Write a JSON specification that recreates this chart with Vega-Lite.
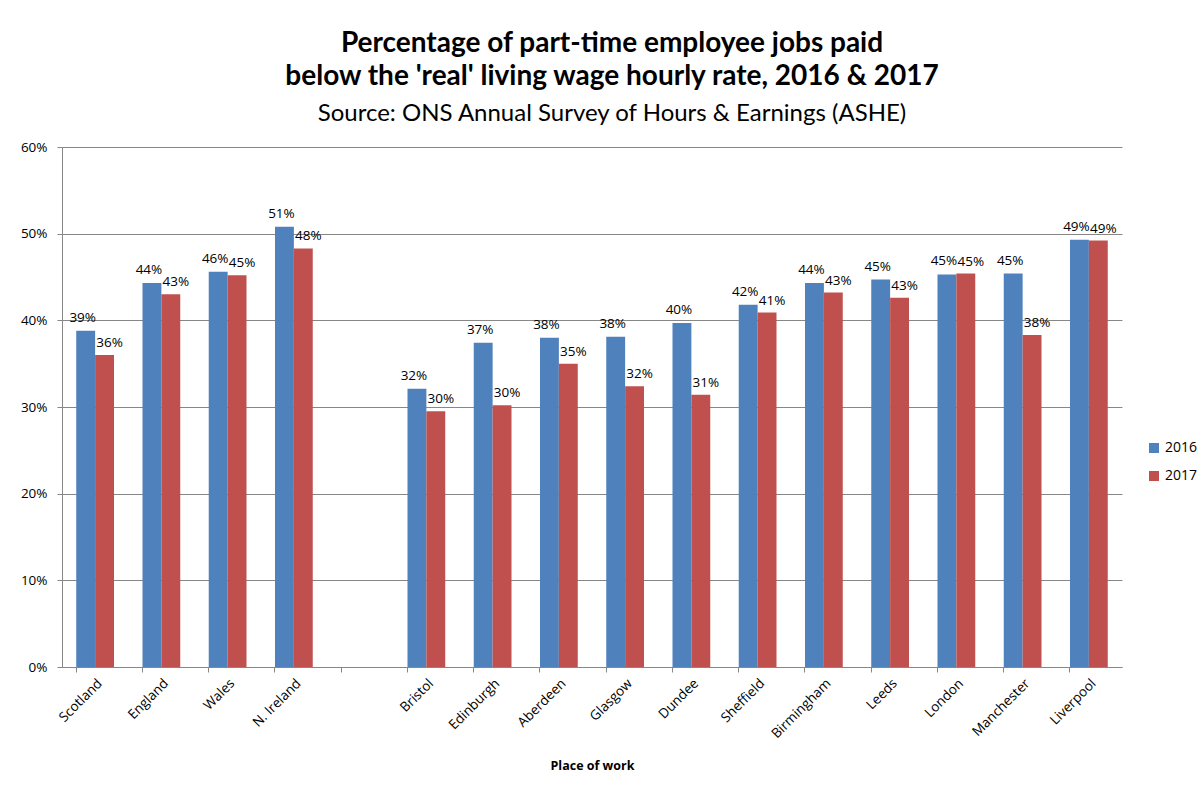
{
  "$schema": "https://vega.github.io/schema/vega-lite/v6.json",
  "autosize": {"type": "none"},
  "width": 1060,
  "height": 520,
  "padding": {"left": 62, "top": 147, "right": 81, "bottom": 123},
  "background": "white",
  "title": {
    "text": ["Percentage of part-time employee jobs paid", "below the 'real' living wage hourly rate, 2016 & 2017"],
    "subtitle": "Source: ONS Annual Survey of Hours & Earnings (ASHE)",
    "anchor": "middle",
    "frame": "group",
    "dx": 20,
    "offset": 14,
    "font": "Lato",
    "fontSize": 28,
    "fontWeight": "bold",
    "lineHeight": 33,
    "color": "black",
    "subtitleFont": "Lato",
    "subtitleFontSize": 24,
    "subtitleColor": "black",
    "subtitlePadding": 11
  },
  "data": {
    "values": [
      {"place": "Scotland", "year": "2016", "value": 0.388},
      {"place": "Scotland", "year": "2017", "value": 0.360},
      {"place": "England", "year": "2016", "value": 0.443},
      {"place": "England", "year": "2017", "value": 0.430},
      {"place": "Wales", "year": "2016", "value": 0.456},
      {"place": "Wales", "year": "2017", "value": 0.452},
      {"place": "N. Ireland", "year": "2016", "value": 0.508},
      {"place": "N. Ireland", "year": "2017", "value": 0.483},
      {"place": "Bristol", "year": "2016", "value": 0.321},
      {"place": "Bristol", "year": "2017", "value": 0.295},
      {"place": "Edinburgh", "year": "2016", "value": 0.374},
      {"place": "Edinburgh", "year": "2017", "value": 0.302},
      {"place": "Aberdeen", "year": "2016", "value": 0.380},
      {"place": "Aberdeen", "year": "2017", "value": 0.350},
      {"place": "Glasgow", "year": "2016", "value": 0.381},
      {"place": "Glasgow", "year": "2017", "value": 0.324},
      {"place": "Dundee", "year": "2016", "value": 0.397},
      {"place": "Dundee", "year": "2017", "value": 0.314},
      {"place": "Sheffield", "year": "2016", "value": 0.418},
      {"place": "Sheffield", "year": "2017", "value": 0.409},
      {"place": "Birmingham", "year": "2016", "value": 0.443},
      {"place": "Birmingham", "year": "2017", "value": 0.432},
      {"place": "Leeds", "year": "2016", "value": 0.447},
      {"place": "Leeds", "year": "2017", "value": 0.426},
      {"place": "London", "year": "2016", "value": 0.453},
      {"place": "London", "year": "2017", "value": 0.454},
      {"place": "Manchester", "year": "2016", "value": 0.454},
      {"place": "Manchester", "year": "2017", "value": 0.383},
      {"place": "Liverpool", "year": "2016", "value": 0.493},
      {"place": "Liverpool", "year": "2017", "value": 0.492}
    ]
  },
  "encoding": {
    "x": {
      "field": "place",
      "type": "nominal",
      "scale": {
        "domain": ["Scotland", "England", "Wales", "N. Ireland", " ", "Bristol", "Edinburgh", "Aberdeen", "Glasgow", "Dundee", "Sheffield", "Birmingham", "Leeds", "London", "Manchester", "Liverpool"],
        "paddingInner": 0.43,
        "paddingOuter": 0.215
      },
      "axis": {
        "title": "Place of work",
        "titleFont": "Open Sans",
        "titleFontSize": 12.5,
        "titleFontWeight": "bold",
        "titleColor": "black",
        "titlePadding": 19,
        "labelAngle": -45,
        "labelFont": "Open Sans",
        "labelFontSize": 13.5,
        "labelColor": "black",
        "labelPadding": 4,
        "bandPosition": 0,
        "domainColor": "#878787",
        "tickColor": "#878787",
        "tickSize": 5,
        "grid": false
      }
    },
    "xOffset": {"field": "year", "type": "nominal", "scale": {"domain": ["2016", "2017"], "paddingInner": 0}},
    "y": {
      "field": "value",
      "type": "quantitative",
      "scale": {"domain": [0, 0.6]},
      "axis": {
        "title": null,
        "format": ".0%",
        "values": [0, 0.1, 0.2, 0.3, 0.4, 0.5, 0.6],
        "labelFont": "Open Sans",
        "labelFontSize": 13.5,
        "labelColor": "black",
        "labelPadding": 10,
        "domainColor": "#878787",
        "tickColor": "#878787",
        "tickSize": 5,
        "gridColor": "#878787",
        "gridOpacity": 1
      }
    }
  },
  "layer": [
    {
      "mark": {"type": "bar"},
      "encoding": {
        "color": {
          "field": "year",
          "type": "nominal",
          "scale": {"domain": ["2016", "2017"], "range": ["#4F81BD", "#C0504D"]},
          "legend": {
            "title": null,
            "orient": "none",
            "legendX": 1085,
            "legendY": 294,
            "symbolType": "square",
            "symbolSize": 100,
            "symbolStrokeWidth": 0,
            "labelFont": "Open Sans",
            "labelFontSize": 14,
            "labelColor": "black",
            "rowPadding": 14
          }
        }
      }
    },
    {
      "transform": [{"filter": "datum.year == '2016'"}],
      "mark": {"type": "text", "baseline": "bottom", "dy": -6, "dx": -3, "font": "Open Sans", "fontSize": 13.5, "color": "black"},
      "encoding": {
        "text": {"field": "value", "type": "quantitative", "format": ".0%"}
      }
    },
    {
      "transform": [{"filter": "datum.year == '2017'"}],
      "mark": {"type": "text", "baseline": "bottom", "dy": -5, "dx": 5, "font": "Open Sans", "fontSize": 13.5, "color": "black"},
      "encoding": {
        "text": {"field": "value", "type": "quantitative", "format": ".0%"}
      }
    }
  ],
  "config": {
    "view": {"stroke": null}
  }
}
